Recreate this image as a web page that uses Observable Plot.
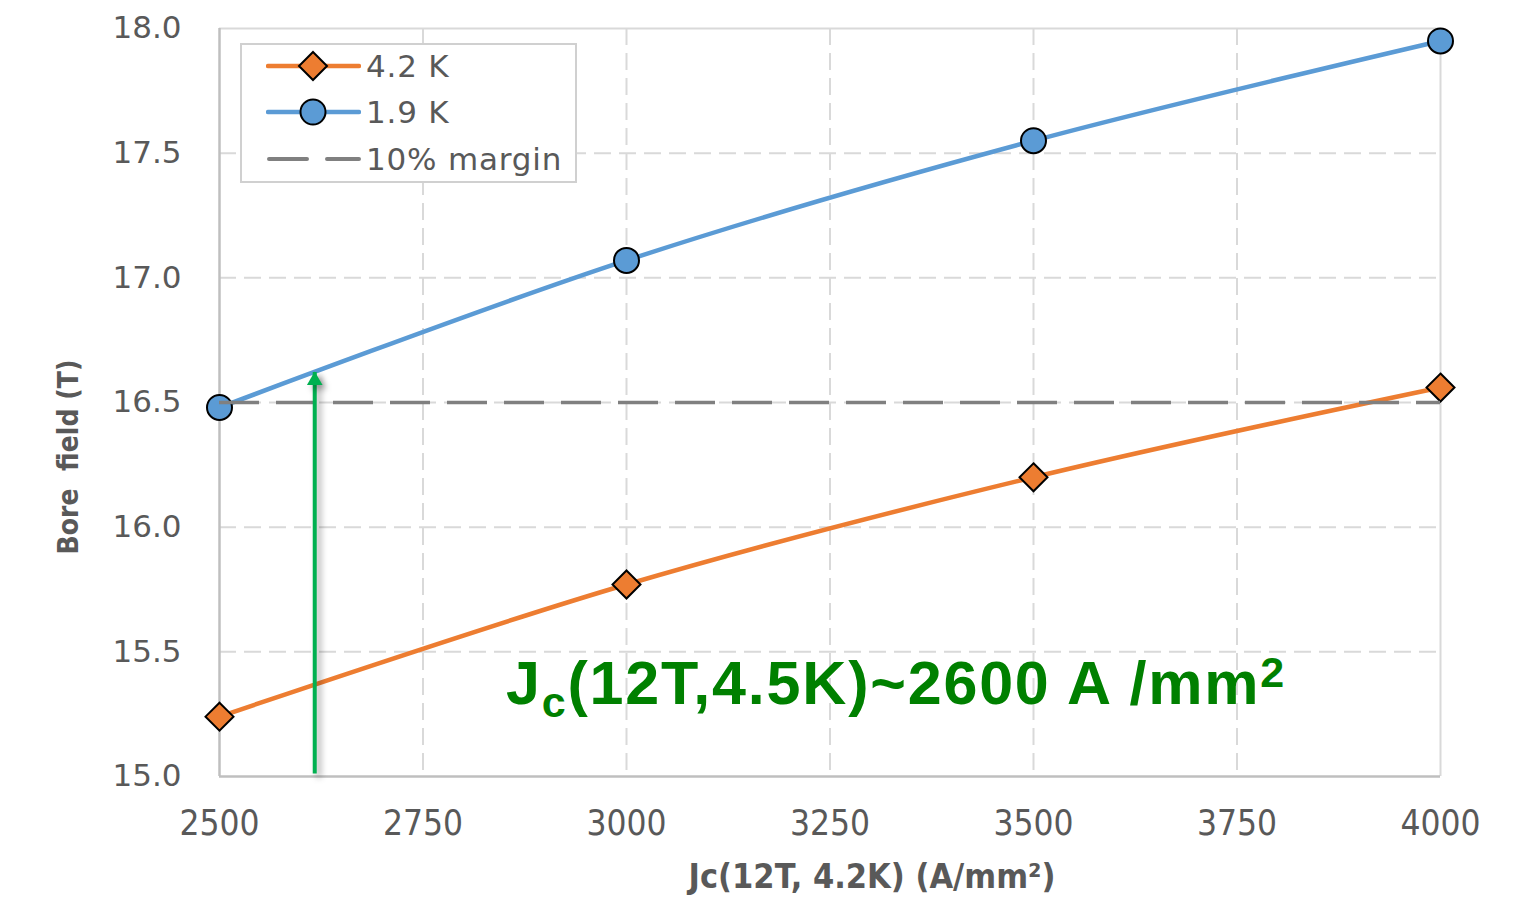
<!DOCTYPE html>
<html>
<head>
<meta charset="utf-8">
<script src="https://cdn.jsdelivr.net/npm/d3@7"></script>
<script src="https://cdn.jsdelivr.net/npm/@observablehq/plot@0.6"></script>
<style>
  body { margin: 0; background: #fff; }
  #wrap { position: relative; width: 1533px; height: 897px; overflow: hidden; }
  #wrap svg.chart { position: absolute; left: 0; top: 0; }
  .legend { position: absolute; left: 240px; top: 43px; width: 333px; height: 136px;
            border: 2px solid #d0d0d0; background: #fff; }
  .legend .row { position: absolute; left: 0; height: 40px; width: 100%; }
  .legend .row svg { position: absolute; left: 24px; top: 0; }
  .legend .row span { position: absolute; left: 124px; top: 0; line-height: 40px;
            font-family: "DejaVu Sans", sans-serif; font-size: 31px; letter-spacing: 0.8px; color: #595959; white-space: nowrap; }
  .ytitle { position: absolute; left: 68px; top: 457px; transform: translate(-50%, -50%) rotate(-90deg);
            font-family: "DejaVu Sans Condensed", "DejaVu Sans", sans-serif; font-stretch: condensed;
            font-weight: bold; font-size: 28px; color: #595959; white-space: pre; }
  .xtitle { position: absolute; left: 872px; top: 876px; transform: translate(-50%, -50%);
            font-family: "DejaVu Sans Condensed", "DejaVu Sans", sans-serif; font-stretch: condensed;
            font-weight: bold; font-size: 34px; color: #595959; white-space: nowrap; }
</style>
</head>
<body>
<div id="wrap"></div>
<script>
// ---- data ----
const jc = [2500, 3000, 3500, 4000];
const field42K = [15.24, 15.77, 16.20, 16.56];
const field19K = [16.48, 17.07, 17.55, 17.95];
const marginField = [16.5];
const xTicks = [2500, 2750, 3000, 3250, 3500, 3750, 4000];
const yTicks = [15.0, 15.5, 16.0, 16.5, 17.0, 17.5, 18.0];
const seriesNames = ["4.2 K", "1.9 K", "10% margin"];
const arrowJc = [2617];
const arrowRange = [15.01, 16.62];
const annotationText = "Jc(12T,4.5K)~2600 A /mm2";
const xTitle = "Jc(12T, 4.2K) (A/mm²)";
const yTitle = "Bore  field (T)";

const d42 = jc.map((x, i) => ({x, y: field42K[i]}));
const d19 = jc.map((x, i) => ({x, y: field19K[i]}));
const arrowData = arrowJc.map(x => ({x, y1: arrowRange[0], y2: arrowRange[1]}));

const grey = "#595959";
const plot = Plot.plot({
  width: 1533, height: 897,
  marginLeft: 219, marginRight: 93, marginTop: 28, marginBottom: 121,
  x: {domain: [2500, 4000]},
  y: {domain: [15, 18]},
  style: {background: "transparent", overflow: "visible"},
  marks: [
    Plot.gridX(xTicks.slice(1, -1), {stroke: "#d9d9d9", strokeOpacity: 1, strokeWidth: 2, strokeDasharray: "17,8"}),
    Plot.gridY(yTicks.slice(1, -1), {stroke: "#d9d9d9", strokeOpacity: 1, strokeWidth: 2, strokeDasharray: "17,8"}),
    Plot.ruleX(xTicks.slice(-1), {stroke: "#d9d9d9", strokeWidth: 2}),
    Plot.ruleY(yTicks.slice(-1), {stroke: "#d9d9d9", strokeWidth: 2}),
    Plot.ruleX(xTicks.slice(0, 1), {stroke: "#bfbfbf", strokeWidth: 2.5}),
    Plot.ruleY(yTicks.slice(0, 1), {stroke: "#bfbfbf", strokeWidth: 2.5}),
    Plot.axisX({ticks: xTicks, tickSize: 0, tickPadding: 34, fontSize: 35,
      fontFamily: "DejaVu Sans Condensed, DejaVu Sans, sans-serif", color: grey, label: null,
      tickFormat: d => String(d)}),
    Plot.axisY({ticks: yTicks, tickSize: 0, tickPadding: 38, fontSize: 31,
      fontFamily: "DejaVu Sans, sans-serif", color: grey, label: null,
      tickFormat: d3.format(".1f")}),
    Plot.line(d42, {x: "x", y: "y", stroke: "#ed7d31", strokeWidth: 4.5, curve: "catmull-rom"}),
    Plot.line(d19, {x: "x", y: "y", stroke: "#5b9bd5", strokeWidth: 4.5, curve: "catmull-rom"}),
    Plot.dot(d42, {x: "x", y: "y", symbol: "diamond2", r: 12.6, fill: "#ed7d31", stroke: "black", strokeWidth: 2}),
    Plot.dot(d19, {x: "x", y: "y", r: 12.5, fill: "#5b9bd5", stroke: "black", strokeWidth: 2}),
    Plot.ruleY(marginField, {x1: jc[0], x2: jc[jc.length - 1], stroke: "#808080", strokeWidth: 3.5, strokeDasharray: "40,17"}),
    Plot.ruleX(arrowData, {x: "x", y1: "y1", y2: "y2", stroke: "#00b050", strokeWidth: 4}),
    Plot.dot(arrowData, {x: "x", y: "y2", symbol: "triangle", r: 5.8, dy: 8, fill: "#00b050", stroke: "none"}),
    Plot.text([annotationText], {x: 2852, y: 15.29, text: d => d, textAnchor: "start", lineAnchor: "bottom",
      fontSize: 61, fontWeight: "bold", fontFamily: "Liberation Sans, Arial, sans-serif", fill: "#008000"})
  ]
});
plot.classList.add("chart");

// arrow shadow
plot.querySelectorAll('g[stroke="#00b050"], g[fill="#00b050"]').forEach(g => {
  g.style.filter = "drop-shadow(4px 4px 3px rgba(0,0,0,0.35))";
});

// sub/superscripts in the annotation
plot.querySelectorAll("text").forEach(t => {
  if (t.textContent === annotationText) {
    const ns = "http://www.w3.org/2000/svg";
    t.textContent = "";
    t.style.letterSpacing = "1.8px";
    const parts = [
      {s: "J"},
      {s: "c", size: 43, dy: 13},
      {s: "(12T,4.5K)~2600 A /mm", dy: -13},
      {s: "2", size: 43, dy: -17}
    ];
    parts.forEach(p => {
      const ts = document.createElementNS(ns, "tspan");
      ts.textContent = p.s;
      if (p.size) ts.setAttribute("font-size", p.size);
      if (p.dy) ts.setAttribute("dy", p.dy);
      t.appendChild(ts);
    });
  }
});

const wrap = document.getElementById("wrap");
wrap.appendChild(plot);

// legend
const legend = document.createElement("div");
legend.className = "legend";
const rowsSvg = [
  `<svg width="95" height="40"><line x1="2" y1="20" x2="93" y2="20" stroke="#ed7d31" stroke-width="4.5" stroke-linecap="round"/>
   <path d="M47,6 L61,20 L47,34 L33,20 Z" fill="#ed7d31" stroke="black" stroke-width="2"/></svg>`,
  `<svg width="95" height="40"><line x1="2" y1="20" x2="93" y2="20" stroke="#5b9bd5" stroke-width="4.5" stroke-linecap="round"/>
   <circle cx="47" cy="20" r="12.5" fill="#5b9bd5" stroke="black" stroke-width="2"/></svg>`,
  `<svg width="95" height="40"><line x1="3" y1="20" x2="93" y2="20" stroke="#808080" stroke-width="4" stroke-linecap="round" stroke-dasharray="38,20"/></svg>`
];
const rowTops = [1, 47, 94];
seriesNames.forEach((name, i) => {
  const row = document.createElement("div");
  row.className = "row";
  row.style.top = rowTops[i] + "px";
  row.innerHTML = rowsSvg[i] + `<span>${name}</span>`;
  legend.appendChild(row);
});
wrap.appendChild(legend);

// axis titles
const yt = document.createElement("div");
yt.className = "ytitle"; yt.textContent = yTitle;
wrap.appendChild(yt);
const xt = document.createElement("div");
xt.className = "xtitle"; xt.textContent = xTitle;
wrap.appendChild(xt);
</script>
</body>
</html>
